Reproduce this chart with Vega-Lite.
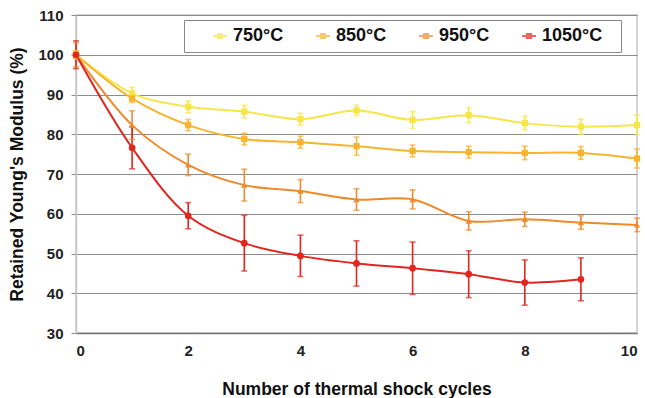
{
  "$schema": "https://vega.github.io/schema/vega-lite/v6.json",
  "autosize": {"type": "none"},
  "width": 561,
  "height": 318,
  "padding": {"left": 76, "top": 15, "right": 8, "bottom": 65},
  "background": "white",
  "config": {
    "font": "Liberation Sans",
    "view": {"stroke": "#c8c8c8", "strokeWidth": 1.5},
    "axis": {
      "labelFont": "Liberation Sans",
      "titleFont": "Liberation Sans",
      "labelFontWeight": "bold",
      "titleFontWeight": "bold",
      "labelFontSize": 15,
      "titleFontSize": 17.5,
      "labelColor": "#222",
      "titleColor": "#111"
    }
  },
  "data": {
    "values": [
      {"temp": "750°C", "cycle": 0, "value": 100, "lo": 99, "hi": 101},
      {"temp": "750°C", "cycle": 1, "value": 90.3, "lo": 88.8, "hi": 91.8},
      {"temp": "750°C", "cycle": 2, "value": 86.9, "lo": 85.4, "hi": 88.4},
      {"temp": "750°C", "cycle": 3, "value": 85.7, "lo": 84.1, "hi": 87.3},
      {"temp": "750°C", "cycle": 4, "value": 83.8, "lo": 82.3, "hi": 85.3},
      {"temp": "750°C", "cycle": 5, "value": 86.0, "lo": 84.7, "hi": 87.3},
      {"temp": "750°C", "cycle": 6, "value": 83.6, "lo": 81.5, "hi": 85.7},
      {"temp": "750°C", "cycle": 7, "value": 84.8, "lo": 82.9, "hi": 86.7},
      {"temp": "750°C", "cycle": 8, "value": 82.8, "lo": 81.1, "hi": 84.5},
      {"temp": "750°C", "cycle": 9, "value": 81.9, "lo": 80.0, "hi": 83.8},
      {"temp": "750°C", "cycle": 10, "value": 82.3, "lo": 79.8, "hi": 84.8},
      {"temp": "850°C", "cycle": 0, "value": 100, "lo": 99, "hi": 101},
      {"temp": "850°C", "cycle": 1, "value": 89.0, "lo": 88.0, "hi": 90.0},
      {"temp": "850°C", "cycle": 2, "value": 82.3, "lo": 80.9, "hi": 83.7},
      {"temp": "850°C", "cycle": 3, "value": 78.8, "lo": 77.3, "hi": 80.3},
      {"temp": "850°C", "cycle": 4, "value": 78.0, "lo": 76.5, "hi": 79.5},
      {"temp": "850°C", "cycle": 5, "value": 77.0, "lo": 74.7, "hi": 79.3},
      {"temp": "850°C", "cycle": 6, "value": 75.8, "lo": 74.3, "hi": 77.3},
      {"temp": "850°C", "cycle": 7, "value": 75.5, "lo": 74.0, "hi": 77.0},
      {"temp": "850°C", "cycle": 8, "value": 75.3, "lo": 73.6, "hi": 77.0},
      {"temp": "850°C", "cycle": 9, "value": 75.3, "lo": 73.7, "hi": 76.9},
      {"temp": "850°C", "cycle": 10, "value": 73.9, "lo": 71.5, "hi": 76.3},
      {"temp": "950°C", "cycle": 0, "value": 100, "lo": 97, "hi": 103},
      {"temp": "950°C", "cycle": 1, "value": 82.3, "lo": 78.7, "hi": 85.9},
      {"temp": "950°C", "cycle": 2, "value": 72.3, "lo": 69.6, "hi": 75.0},
      {"temp": "950°C", "cycle": 3, "value": 67.2, "lo": 63.2, "hi": 71.2},
      {"temp": "950°C", "cycle": 4, "value": 65.7, "lo": 62.8, "hi": 68.6},
      {"temp": "950°C", "cycle": 5, "value": 63.6, "lo": 60.9, "hi": 66.3},
      {"temp": "950°C", "cycle": 6, "value": 63.6, "lo": 61.2, "hi": 66.0},
      {"temp": "950°C", "cycle": 7, "value": 58.2, "lo": 55.9, "hi": 60.5},
      {"temp": "950°C", "cycle": 8, "value": 58.6, "lo": 56.8, "hi": 60.4},
      {"temp": "950°C", "cycle": 9, "value": 57.8, "lo": 56.1, "hi": 59.5},
      {"temp": "950°C", "cycle": 10, "value": 57.2, "lo": 55.5, "hi": 58.9},
      {"temp": "1050°C", "cycle": 0, "value": 100, "lo": 96.5, "hi": 103.5},
      {"temp": "1050°C", "cycle": 1, "value": 76.6, "lo": 71.3, "hi": 81.9},
      {"temp": "1050°C", "cycle": 2, "value": 59.5, "lo": 56.2, "hi": 62.8},
      {"temp": "1050°C", "cycle": 3, "value": 52.6, "lo": 45.6, "hi": 59.6},
      {"temp": "1050°C", "cycle": 4, "value": 49.4, "lo": 44.2, "hi": 54.6},
      {"temp": "1050°C", "cycle": 5, "value": 47.5, "lo": 41.8, "hi": 53.2},
      {"temp": "1050°C", "cycle": 6, "value": 46.3, "lo": 39.7, "hi": 52.9},
      {"temp": "1050°C", "cycle": 7, "value": 44.8, "lo": 38.9, "hi": 50.7},
      {"temp": "1050°C", "cycle": 8, "value": 42.7, "lo": 37.0, "hi": 48.4},
      {"temp": "1050°C", "cycle": 9, "value": 43.5, "lo": 38.1, "hi": 48.9}
    ]
  },
  "encoding": {
    "x": {
      "field": "cycle", "type": "quantitative",
      "scale": {"domain": [0, 10], "nice": false},
      "axis": {
        "values": [0, 2, 4, 6, 8, 10], "grid": false,
        "title": "Number of thermal shock cycles",
        "domainColor": "#777", "domainWidth": 1.5,
        "ticks": false,
        "labelPadding": 10, "titlePadding": 22
      }
    },
    "y": {
      "field": "value", "type": "quantitative",
      "scale": {"domain": [30, 110], "nice": false, "zero": false},
      "axis": {
        "values": [30, 40, 50, 60, 70, 80, 90, 100, 110],
        "title": "Retained Young's Modulus (%)",
        "gridColor": "#8c8c8c", "gridWidth": 1.2,
        "domainColor": "#c8c8c8", "domainWidth": 1.5,
        "tickColor": "#888", "tickSize": 5,
        "labelPadding": 8, "titlePadding": 11
      }
    },
    "color": {
      "field": "temp", "type": "nominal",
      "scale": {
        "domain": ["750°C", "850°C", "950°C", "1050°C"],
        "range": ["#f7e64a", "#f6b52e", "#ee8a2c", "#e0261f"]
      },
      "legend": {
        "orient": "none", "direction": "horizontal",
        "legendX": 108, "legendY": 5,
        "title": "\u00a0", "titleOrient": "right", "titlePadding": 12,
        "strokeColor": "#888", "fillColor": "white",
        "padding": 7,
        "columnPadding": 0,
        "gridAlign": "all",
        "symbolOffset": 20,
        "symbolType": "M-1,0H1M-0.3,-0.3H0.3V0.3H-0.3Z",
        "symbolSize": 196, "symbolStrokeWidth": 2,
        "labelFont": "Liberation Sans", "labelFontSize": 18,
        "labelFontWeight": "bold", "labelColor": "#111",
        "labelOffset": 4
      }
    }
  },
  "layer": [
    {
      "mark": {"type": "rule", "strokeWidth": 1.6},
      "encoding": {"y": {"field": "lo", "type": "quantitative"}, "y2": {"field": "hi"}}
    },
    {
      "mark": {"type": "tick", "orient": "horizontal", "size": 6, "thickness": 1.6},
      "encoding": {"y": {"field": "lo", "type": "quantitative"}}
    },
    {
      "mark": {"type": "tick", "orient": "horizontal", "size": 6, "thickness": 1.6},
      "encoding": {"y": {"field": "hi", "type": "quantitative"}}
    },
    {
      "mark": {"type": "line", "interpolate": "catmull-rom", "strokeWidth": 2}
    },
    {
      "transform": [{"filter": "datum.temp == '750°C' || datum.temp == '850°C'"}],
      "mark": {"type": "point", "filled": true, "opacity": 1, "shape": "square", "size": 40}
    },
    {
      "transform": [{"filter": "datum.temp == '950°C'"}],
      "mark": {"type": "point", "filled": true, "opacity": 1, "shape": "triangle-up", "size": 40}
    },
    {
      "transform": [{"filter": "datum.temp == '1050°C'"}],
      "mark": {"type": "point", "filled": true, "opacity": 1, "shape": "circle", "size": 45}
    }
  ]
}
